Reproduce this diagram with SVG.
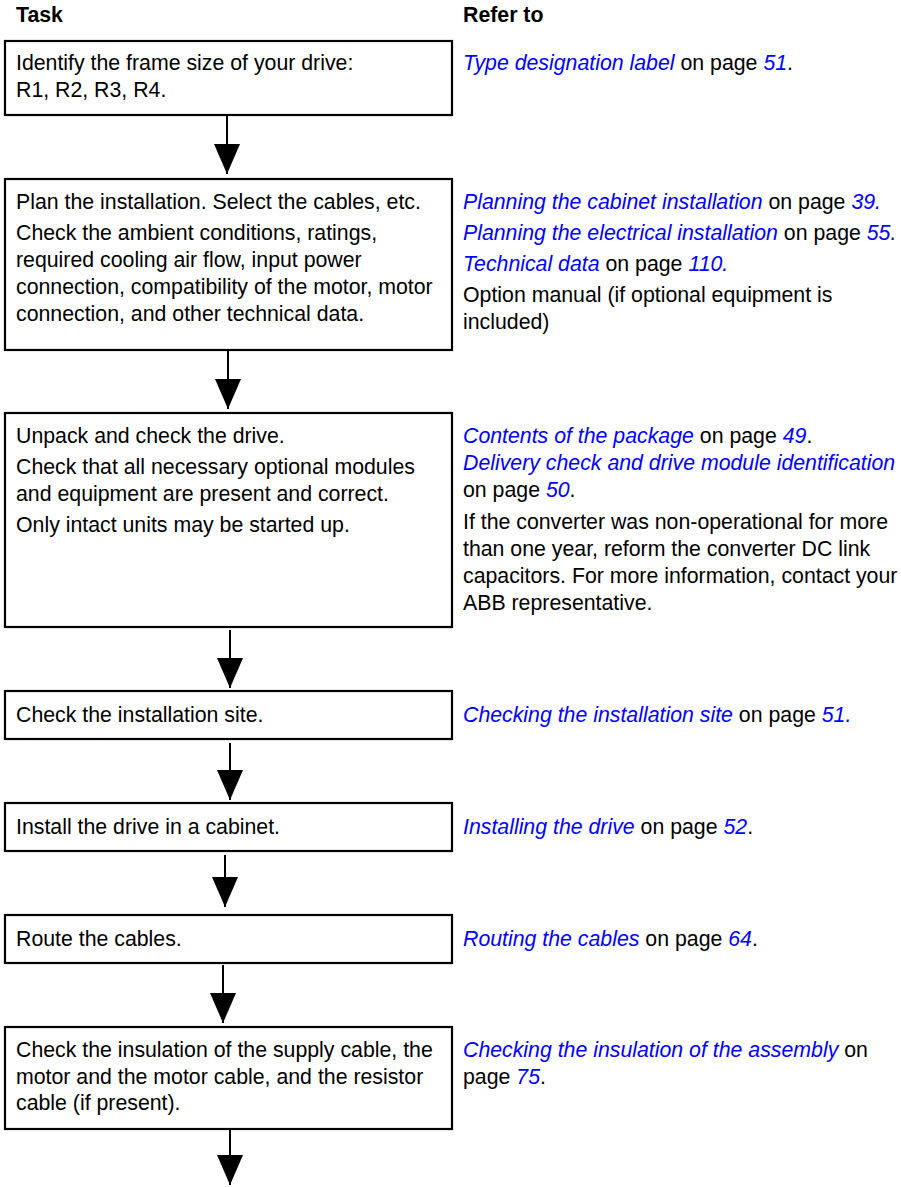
<svg xmlns="http://www.w3.org/2000/svg" width="901" height="1187" viewBox="0 0 901 1187">
<defs>
<style>
text{font-family:"Liberation Sans",Arial,sans-serif;font-size:21.3px;fill:#000}
.h{font-weight:bold}
.l{font-style:italic;fill:#0000ff}
.box{fill:#fff;stroke:#000;stroke-width:2.2}
.con{stroke:#000;stroke-width:2;fill:none}
</style>
<marker id="ah" viewBox="0 0 30 26" refX="30" refY="13" markerWidth="30" markerHeight="26" markerUnits="userSpaceOnUse" orient="auto">
<path d="M0,0 L30,13 L0,26 z" fill="#000"/>
</marker>
</defs>
<rect width="901" height="1187" fill="#fff"/>
<g id="headers">
<text class="h" x="16" y="22">Task</text>
<text class="h" x="463" y="22">Refer to</text>
</g>
<g id="connectors">
<line class="con" x1="227" y1="115" x2="227" y2="174" marker-end="url(#ah)"/>
<line class="con" x1="228" y1="350" x2="228" y2="409" marker-end="url(#ah)"/>
<line class="con" x1="230" y1="630" x2="230" y2="688" marker-end="url(#ah)"/>
<line class="con" x1="230" y1="743" x2="230" y2="800" marker-end="url(#ah)"/>
<line class="con" x1="225" y1="855" x2="225" y2="907" marker-end="url(#ah)"/>
<line class="con" x1="223" y1="965" x2="223" y2="1023" marker-end="url(#ah)"/>
<line class="con" x1="230" y1="1130" x2="230" y2="1185" marker-end="url(#ah)"/>
</g>
<g id="step1">
<rect class="box" x="5" y="41" width="447" height="74"/>
<text x="16" y="70">Identify the frame size of your drive:</text>
<text x="16" y="97">R1, R2, R3, R4.</text>
<text x="463" y="70"><tspan class="l">Type designation label</tspan> on page <tspan class="l">51</tspan>.</text>
</g>
<g id="step2">
<rect class="box" x="5" y="179" width="447" height="171"/>
<text x="16" y="209">Plan the installation. Select the cables, etc.</text>
<text x="16" y="240">Check the ambient conditions, ratings,</text>
<text x="16" y="267">required cooling air flow, input power</text>
<text x="16" y="294">connection, compatibility of the motor, motor</text>
<text x="16" y="321">connection, and other technical data.</text>
<text x="463" y="209"><tspan class="l">Planning the cabinet installation</tspan> on page <tspan class="l">39.</tspan></text>
<text x="463" y="240"><tspan class="l">Planning the electrical installation</tspan> on page <tspan class="l">55.</tspan></text>
<text x="463" y="271"><tspan class="l">Technical data</tspan> on page <tspan class="l">110.</tspan></text>
<text x="463" y="302">Option manual (if optional equipment is</text>
<text x="463" y="329">included)</text>
</g>
<g id="step3">
<rect class="box" x="5" y="413" width="447" height="214"/>
<text x="16" y="443">Unpack and check the drive.</text>
<text x="16" y="474">Check that all necessary optional modules</text>
<text x="16" y="501">and equipment are present and correct.</text>
<text x="16" y="532">Only intact units may be started up.</text>
<text x="463" y="443"><tspan class="l">Contents of the package</tspan> on page <tspan class="l">49</tspan>.</text>
<text x="463" y="470"><tspan class="l">Delivery check and drive module identification</tspan></text>
<text x="463" y="497">on page <tspan class="l">50</tspan>.</text>
<text x="463" y="529">If the converter was non-operational for more</text>
<text x="463" y="556">than one year, reform the converter DC link</text>
<text x="463" y="583">capacitors. For more information, contact your</text>
<text x="463" y="610">ABB representative.</text>
</g>
<g id="step4">
<rect class="box" x="5" y="691" width="447" height="48"/>
<text x="16" y="722">Check the installation site.</text>
<text x="463" y="722"><tspan class="l">Checking the installation site</tspan> on page <tspan class="l">51.</tspan></text>
</g>
<g id="step5">
<rect class="box" x="5" y="803" width="447" height="48"/>
<text x="16" y="834">Install the drive in a cabinet.</text>
<text x="463" y="834"><tspan class="l">Installing the drive</tspan> on page <tspan class="l">52</tspan>.</text>
</g>
<g id="step6">
<rect class="box" x="5" y="915" width="447" height="48"/>
<text x="16" y="946">Route the cables.</text>
<text x="463" y="946"><tspan class="l">Routing the cables</tspan> on page <tspan class="l">64</tspan>.</text>
</g>
<g id="step7">
<rect class="box" x="5" y="1027" width="447" height="102"/>
<text x="16" y="1057">Check the insulation of the supply cable, the</text>
<text x="16" y="1084">motor and the motor cable, and the resistor</text>
<text x="16" y="1110">cable (if present).</text>
<text x="463" y="1057"><tspan class="l">Checking the insulation of the assembly</tspan> on</text>
<text x="463" y="1084">page <tspan class="l">75</tspan>.</text>
</g>
</svg>
